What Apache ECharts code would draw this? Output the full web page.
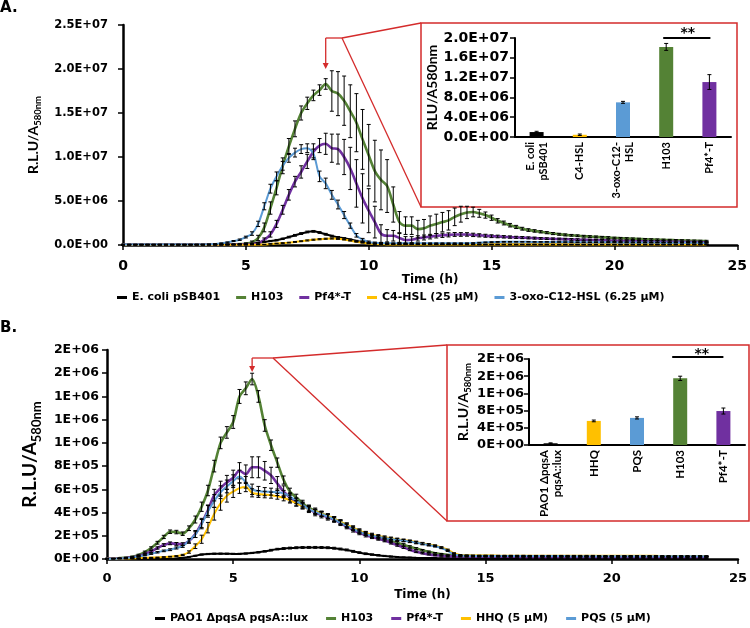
<!DOCTYPE html>
<html><head><meta charset="utf-8">
<script src="https://cdn.jsdelivr.net/npm/echarts@6/dist/echarts.min.js"></script>
<style>html,body{margin:0;padding:0;background:#fff}#c{width:750px;height:628px}</style>
</head><body><div id="c"></div>
<script>
// ---------- DATA ----------
const time = [0,0.25,0.5,0.75,1,1.25,1.5,1.75,2,2.25,2.5,2.75,3,3.25,3.5,3.75,4,4.25,4.5,4.75,5,5.25,5.5,5.75,6,6.25,6.5,6.75,7,7.25,7.5,7.75,8,8.25,8.5,8.75,9,9.25,9.5,9.75,10,10.25,10.5,10.75,11,11.25,11.5,11.75,12,12.25,12.5,12.75,13,13.25,13.5,13.75,14,14.25,14.5,14.75,15,15.25,15.5,15.75,16,16.25,16.5,16.75,17,17.25,17.5,17.75,18,18.25,18.5,18.75,19,19.25,19.5,19.75,20,20.25,20.5,20.75,21,21.25,21.5,21.75,22,22.25,22.5,22.75,23,23.25,23.5,23.75];

// Panel A (values in millions of R.L.U/A580nm)
const namesA = ['E. coli pSB401','H103','Pf4*-T','C4-HSL (25 µM)','3-oxo-C12-HSL (6.25 µM)'];
const aEcoli = [
0.03,0.03,0.03,0.03, 0.03,0.03,0.03,0.03, 0.03,0.03,0.03,0.03, 0.03,0.03,0.03,0.03,
0.03,0.04,0.05,0.08, 0.12,0.18,0.25,0.35, 0.45,0.55,0.70,0.90, 1.10,1.30,1.48,1.55,
1.42,1.22,1.02,0.88, 0.76,0.62,0.47,0.36, 0.27,0.20,0.15,0.12, 0.10,0.10,0.09,0.09,
0.08,0.08,0.08,0.08, 0.07,0.07,0.07,0.07, 0.07,0.07,0.06,0.06, 0.06,0.06,0.06,0.06,
0.06,0.06,0.06,0.06, 0.06,0.06,0.05,0.05, 0.05,0.05,0.05,0.05, 0.05,0.05,0.05,0.05,
0.05,0.05,0.05,0.05, 0.05,0.05,0.05,0.05, 0.05,0.05,0.05,0.05, 0.05,0.05,0.05,0.05];
const aEcoliErr = [
0.02,0.02,0.02,0.02, 0.02,0.02,0.02,0.02, 0.02,0.02,0.02,0.02, 0.02,0.02,0.02,0.02,
0.02,0.02,0.02,0.03, 0.03,0.04,0.05,0.06, 0.07,0.08,0.08,0.09, 0.10,0.10,0.10,0.10,
0.10,0.10,0.09,0.08, 0.08,0.07,0.06,0.05, 0.04,0.04,0.03,0.03, 0.02,0.02,0.02,0.02,
0.02,0.02,0.02,0.02, 0.02,0.02,0.02,0.02, 0.02,0.02,0.02,0.02, 0.02,0.02,0.02,0.02,
0.02,0.02,0.02,0.02, 0.02,0.02,0.02,0.02, 0.02,0.02,0.02,0.02, 0.02,0.02,0.02,0.02,
0.02,0.02,0.02,0.02, 0.02,0.02,0.02,0.02, 0.02,0.02,0.02,0.02, 0.02,0.02,0.02,0.02];
const aH103 = [
0.05,0.05,0.05,0.05, 0.05,0.05,0.05,0.05, 0.05,0.05,0.05,0.05, 0.06,0.06,0.06,0.07,
0.07,0.08,0.09,0.10, 0.15,0.30,0.80,2.00, 4.20,6.50,9.00,11.2, 13.2,15.0,16.1,17.0,
17.6,18.3,17.5,17.2, 16.4,15.2,13.9,12.0, 10.2,8.40,7.40,6.70, 4.60,2.60,2.20,2.20,
1.80,1.90,2.20,2.40, 2.60,2.80,3.20,3.50, 3.70,3.75,3.60,3.40, 3.10,2.75,2.50,2.25,
2.05,1.85,1.70,1.60, 1.50,1.40,1.30,1.22, 1.15,1.10,1.05,1.00, 0.96,0.92,0.88,0.85,
0.80,0.77,0.74,0.71, 0.68,0.65,0.62,0.60, 0.58,0.56,0.54,0.52, 0.50,0.48,0.46,0.45];
const aH103Err = [
0.04,0.04,0.04,0.04, 0.04,0.04,0.04,0.04, 0.04,0.04,0.04,0.04, 0.04,0.04,0.04,0.04,
0.04,0.05,0.05,0.06, 0.10,0.15,0.30,0.50, 0.70,0.80,0.90,0.90, 0.90,0.80,0.70,0.60,
0.60,0.60,2.30,2.50, 2.80,3.00,3.30,3.40, 3.50,3.50,3.40,3.00, 2.00,1.20,1.00,1.00,
1.00,1.00,1.10,1.10, 1.10,1.10,1.00,0.90, 0.70,0.55,0.45,0.35, 0.30,0.25,0.22,0.20,
0.18,0.16,0.15,0.14, 0.13,0.12,0.12,0.11, 0.11,0.10,0.10,0.10, 0.10,0.10,0.10,0.10,
0.09,0.09,0.09,0.09, 0.09,0.09,0.09,0.09, 0.08,0.08,0.08,0.08, 0.08,0.08,0.08,0.08];
const aPf4 = [
0.04,0.04,0.04,0.04, 0.04,0.04,0.04,0.04, 0.04,0.04,0.04,0.04, 0.04,0.04,0.04,0.04,
0.04,0.05,0.05,0.06, 0.08,0.10,0.20,0.60, 1.20,2.40,4.00,5.70, 7.20,8.30,9.50,10.6,
11.3,11.5,11.0,10.9, 10.0,8.70,7.00,5.30, 3.90,2.60,1.30,1.05, 1.05,0.80,0.55,0.60,
0.75,0.85,0.95,1.05, 1.10,1.15,1.20,1.20, 1.20,1.15,1.10,1.05, 1.00,0.97,0.93,0.90,
0.87,0.84,0.81,0.78, 0.75,0.72,0.70,0.68, 0.66,0.63,0.61,0.59, 0.57,0.55,0.53,0.51,
0.49,0.47,0.45,0.43, 0.42,0.41,0.40,0.39, 0.38,0.37,0.36,0.35, 0.34,0.33,0.32,0.31];
const aPf4Err = [
0.03,0.03,0.03,0.03, 0.03,0.03,0.03,0.03, 0.03,0.03,0.03,0.03, 0.03,0.03,0.03,0.03,
0.03,0.03,0.03,0.04, 0.05,0.06,0.10,0.20, 0.30,0.40,0.50,0.60, 0.60,0.70,0.80,0.90,
0.80,1.20,1.60,1.70, 2.00,2.40,2.70,2.80, 2.50,1.80,1.00,0.70, 0.60,0.50,0.40,0.35,
0.30,0.28,0.26,0.25, 0.24,0.23,0.22,0.21, 0.20,0.19,0.18,0.17, 0.16,0.15,0.14,0.13,
0.12,0.12,0.11,0.11, 0.10,0.10,0.10,0.10, 0.10,0.10,0.10,0.10, 0.09,0.09,0.09,0.09,
0.09,0.09,0.09,0.09, 0.08,0.08,0.08,0.08, 0.08,0.08,0.08,0.08, 0.07,0.07,0.07,0.07];
const aC4 = [
0.02,0.02,0.02,0.02, 0.02,0.02,0.02,0.02, 0.02,0.02,0.02,0.02, 0.02,0.02,0.02,0.02,
0.02,0.02,0.02,0.02, 0.02,0.03,0.04,0.06, 0.12,0.17,0.22,0.27, 0.35,0.43,0.52,0.60,
0.66,0.71,0.74,0.70, 0.62,0.50,0.36,0.25, 0.16,0.10,0.08,0.07, 0.06,0.06,0.06,0.06,
0.06,0.06,0.06,0.06, 0.06,0.06,0.06,0.06, 0.05,0.05,0.05,0.05, 0.05,0.05,0.05,0.05,
0.05,0.05,0.05,0.05, 0.05,0.05,0.05,0.05, 0.05,0.05,0.05,0.05, 0.05,0.05,0.05,0.05,
0.05,0.05,0.05,0.05, 0.05,0.05,0.05,0.05, 0.05,0.05,0.05,0.05, 0.05,0.05,0.05,0.05];
const aC4Err = [
0.01,0.01,0.01,0.01, 0.01,0.01,0.01,0.01, 0.01,0.01,0.01,0.01, 0.01,0.01,0.01,0.01,
0.01,0.01,0.01,0.01, 0.01,0.01,0.02,0.02, 0.03,0.03,0.04,0.04, 0.05,0.05,0.06,0.06,
0.06,0.06,0.06,0.06, 0.05,0.05,0.04,0.03, 0.02,0.02,0.02,0.02, 0.01,0.01,0.01,0.01,
0.01,0.01,0.01,0.01, 0.01,0.01,0.01,0.01, 0.01,0.01,0.01,0.01, 0.01,0.01,0.01,0.01,
0.01,0.01,0.01,0.01, 0.01,0.01,0.01,0.01, 0.01,0.01,0.01,0.01, 0.01,0.01,0.01,0.01,
0.01,0.01,0.01,0.01, 0.01,0.01,0.01,0.01, 0.01,0.01,0.01,0.01, 0.01,0.01,0.01,0.01];
const aOxo = [
0.05,0.05,0.05,0.05, 0.05,0.05,0.05,0.05, 0.05,0.05,0.05,0.05, 0.05,0.05,0.08,0.12,
0.20,0.30,0.45,0.60, 0.90,1.30,2.40,4.40, 6.40,7.80,9.00,9.90, 10.5,10.9,11.0,10.4,
7.80,7.00,5.70,4.60, 3.40,2.20,1.10,0.60, 0.35,0.25,0.20,0.20, 0.20,0.20,0.20,0.20,
0.20,0.20,0.20,0.20, 0.20,0.20,0.20,0.20, 0.20,0.22,0.26,0.30, 0.33,0.35,0.36,0.36,
0.36,0.36,0.36,0.35, 0.35,0.35,0.34,0.34, 0.33,0.33,0.32,0.32, 0.31,0.31,0.30,0.30,
0.30,0.29,0.29,0.28, 0.28,0.28,0.27,0.27, 0.26,0.26,0.26,0.25, 0.25,0.25,0.24,0.24];
const aOxoErr = [
0.02,0.02,0.02,0.02, 0.02,0.02,0.02,0.02, 0.02,0.02,0.02,0.02, 0.02,0.02,0.03,0.03,
0.04,0.05,0.06,0.08, 0.10,0.20,0.30,0.40, 0.50,0.50,0.50,0.50, 0.50,0.50,0.50,0.50,
0.60,0.60,0.50,0.50, 0.40,0.30,0.20,0.15, 0.10,0.08,0.06,0.05, 0.04,0.04,0.04,0.04,
0.04,0.04,0.04,0.04, 0.04,0.04,0.04,0.04, 0.04,0.04,0.04,0.04, 0.04,0.04,0.04,0.04,
0.03,0.03,0.03,0.03, 0.03,0.03,0.03,0.03, 0.03,0.03,0.03,0.03, 0.03,0.03,0.03,0.03,
0.03,0.03,0.03,0.03, 0.03,0.03,0.03,0.03, 0.03,0.03,0.03,0.03, 0.03,0.03,0.03,0.03];

// Panel B (values in thousands of R.L.U/A580nm)
const namesB = ['PAO1 ΔpqsA pqsA::lux','H103','Pf4*-T','HHQ (5 µM)','PQS (5 µM)'];
const bPAO1 = [
3,3,3,3, 3,3,3,3, 3,3,3,5, 10,18,28,38, 43,45,46,45, 44,44,47,52,
58,66,76,85, 90,94,97,99, 100,100,99,97, 93,86,78,66, 55,45,38,32, 26,21,17,14,
12,10,9,8, 8,7,7,7, 6,6,6,6, 6,6,6,6, 6,6,6,6, 6,6,5,5,
5,5,5,5, 5,5,5,5, 5,5,5,5, 5,5,5,5, 5,5,5,5, 5,5,5,5];
const bPAO1Err = [
1,1,1,1, 1,1,1,1, 1,1,1,1, 2,3,4,5, 5,5,5,5, 5,5,5,5,
6,6,7,7, 8,8,8,8, 8,8,8,8, 8,8,8,8, 7,7,6,6, 5,5,4,4,
3,3,3,3, 2,2,2,2, 2,2,2,2, 2,2,2,2, 2,2,2,2, 2,2,2,2,
2,2,2,2, 2,2,2,2, 2,2,2,2, 2,2,2,2, 2,2,2,2, 2,2,2,2];
const bH103 = [
5,5,8,12, 20,35,60,95, 140,190,235,232, 218,265,340,450, 590,800,1000,1090, 1180,1400,1470,1550,
1400,1150,980,830, 680,580,530,480, 440,415,390,368, 345,318,290,265, 240,220,200,185, 170,155,140,122,
105,90,75,62, 50,42,35,30, 28,27,26,25, 25,24,24,23, 23,23,22,22, 22,22,21,21,
21,21,20,20, 20,20,20,20, 20,20,20,20, 19,19,19,19, 19,19,19,19, 19,19,19,19];
const bH103Err = [
2,2,2,3, 4,6,8,10, 12,14,15,15, 15,20,30,40, 45,50,50,50, 55,60,55,50,
50,50,45,40, 35,30,28,26, 25,24,23,22, 21,20,19,18, 17,16,15,14, 13,12,11,10,
9,8,7,6, 6,5,5,4, 4,4,4,4, 3,3,3,3, 3,3,3,3, 3,3,3,3,
3,3,3,3, 3,3,3,3, 3,3,3,3, 3,3,3,3, 3,3,3,3, 3,3,3,3];
const bPf4 = [
3,3,5,8, 14,25,42,65, 95,120,135,130, 128,155,215,310, 420,550,610,660, 700,760,730,790,
790,760,720,650, 580,530,490,460, 430,400,380,360, 340,310,280,250, 225,205,190,175, 160,140,120,100,
80,62,50,40, 33,28,25,23, 22,21,20,20, 20,19,19,19, 19,19,18,18, 18,18,18,18,
18,18,18,18, 18,18,18,18, 17,17,17,17, 17,17,17,17, 17,17,17,17, 17,17,17,17];
const bPf4Err = [
2,2,2,3, 4,5,6,8, 10,12,12,12, 12,20,30,40, 45,50,60,60, 65,70,80,90,
90,80,70,60, 50,40,35,30, 30,28,26,25, 24,22,20,18, 16,15,14,13, 12,11,10,9,
8,7,6,5, 5,4,4,4, 3,3,3,3, 3,3,3,3, 3,3,3,3, 3,3,3,3,
3,3,3,3, 3,3,3,3, 3,3,3,3, 3,3,3,3, 3,3,3,3, 3,3,3,3];
const bHHQ = [
2,2,3,4, 6,8,10,12, 14,17,20,25, 35,60,110,170, 270,390,480,545, 580,610,620,570,
560,555,550,540, 525,505,480,455, 430,410,390,370, 345,320,295,270, 245,225,210,198, 188,178,170,162,
155,145,135,125, 115,100,80,50, 35,32,31,30, 30,30,29,29, 29,29,29,28, 28,28,28,28,
28,28,28,28, 28,28,27,27, 27,27,27,27, 27,27,27,27, 26,26,26,26, 26,26,26,26];
const bHHQErr = [
1,1,1,1, 1,1,2,2, 2,3,3,4, 5,10,20,35, 45,55,60,55, 50,45,40,35,
30,28,26,25, 24,23,22,21, 20,20,19,19, 18,17,16,15, 14,13,12,12, 11,11,10,10,
9,9,8,8, 7,6,5,4, 3,3,3,3, 3,3,3,3, 3,3,3,3, 3,3,3,3,
3,3,3,3, 3,3,3,3, 3,3,3,3, 3,3,3,3, 3,3,3,3, 3,3,3,3];
const bPQS = [
3,3,5,8, 14,22,32,45, 58,70,80,95, 110,160,210,300, 410,500,575,625, 670,710,660,600,
585,580,580,575, 565,540,500,465, 430,405,385,365, 340,312,285,260, 235,215,200,190, 180,172,165,158,
150,140,130,120, 110,95,70,40, 30,28,27,26, 26,26,25,25, 25,25,25,25, 25,25,25,25,
25,25,24,24, 24,24,24,24, 24,24,24,24, 23,23,23,23, 23,23,23,23, 23,23,23,23];
const bPQSErr = [
1,1,1,2, 2,3,4,5, 6,7,8,9, 10,15,25,40, 50,55,55,55, 55,55,50,45,
40,35,30,28, 26,25,24,23, 22,21,20,19, 18,17,16,15, 14,13,12,12, 11,11,10,10,
9,9,8,8, 7,6,5,4, 3,3,3,3, 3,3,3,3, 3,3,3,3, 3,3,3,3,
3,3,3,3, 3,3,3,3, 3,3,3,3, 3,3,3,3, 3,3,3,3, 3,3,3,3];

// Insets (peak values)
const insetACats = ['E. coli\npSB401','C4-HSL','3-oxo-C12-\nHSL','H103','Pf4*-T'];
const insetAVals = [1.0e6, 0.45e6, 7.0e6, 18.2e6, 11.1e6];
const insetAErr  = [0.15e6, 0.15e6, 0.2e6, 0.7e6, 1.5e6];
const insetBCats = ['PAO1 ΔpqsA\npqsA::lux','HHQ','PQS','H103','Pf4*-T'];
const insetBVals = [0.04e6, 0.56e6, 0.63e6, 1.55e6, 0.79e6];
const insetBErr  = [0.01e6, 0.02e6, 0.025e6, 0.05e6, 0.07e6];

// Tick settings
const yTicksA = {max: 2.5e7, interval: 5e6};
const yTicksAInset = {max: 2.0e7, interval: 4e6};
const yTicksB = {max: 1.8e6, interval: 2e5};
const yTicksBInset = {max: 2.0e6, interval: 4e5};
const xTicks = {max: 25, interval: 5};

// ---------- STYLE ----------
const UNIT_A = 1e6, UNIT_B = 1e3;
const colA = ['#000000','#548235','#7030A0','#FFC000','#5B9BD5'];
const colB = ['#000000','#548235','#7030A0','#FFC000','#5B9BD5'];
const widthA = [2,2.6,2.6,2,2];
const colInsetA = ['#000000','#FFC000','#5B9BD5','#548235','#7030A0'];
const colInsetB = ['#000000','#FFC000','#5B9BD5','#548235','#7030A0'];
const RED = '#D42B2B';
const F = 'DejaVu Sans', RF = 'Lato';

function sci(v, d){
  const s = Number(v).toExponential(d);
  const parts = s.split('e');
  const sign = parts[1][0] === '-' ? '-' : '+';
  const n = Math.abs(parseInt(parts[1], 10));
  return parts[0] + 'E' + sign + (n < 10 ? '0' : '') + n;
}

const chart = echarts.init(document.getElementById('c'));

function errRender(params, api){
  const x = api.value(0), y = api.value(1), e = api.value(2);
  const t = api.coord([x, y + e]), b = api.coord([x, Math.max(0, y - e)]);
  const cw = 2, st = {stroke:'#000', lineWidth:1};
  return {type:'group', children:[
    {type:'line', shape:{x1:t[0], y1:t[1], x2:b[0], y2:b[1]}, style:st},
    {type:'line', shape:{x1:t[0]-cw, y1:t[1], x2:t[0]+cw, y2:t[1]}, style:st},
    {type:'line', shape:{x1:b[0]-cw, y1:b[1], x2:b[0]+cw, y2:b[1]}, style:st}
  ]};
}

const seriesA = [aEcoli, aH103, aPf4, aC4, aOxo];
const errsA = [aEcoliErr, aH103Err, aPf4Err, aC4Err, aOxoErr];
const seriesB = [bPAO1, bH103, bPf4, bHHQ, bPQS];
const errsB = [bPAO1Err, bH103Err, bPf4Err, bHHQErr, bPQSErr];

const series = [];
seriesA.forEach((vals, k) => {
  series.push({type:'line', name:namesA[k], xAxisIndex:0, yAxisIndex:0, showSymbol:false, smooth:0.3,
    data: time.map((t,i)=>[t, vals[i]*UNIT_A]), color: colA[k],
    lineStyle:{width:widthA[k], color:colA[k]}, z:2});
});
const errItemsA = [];
seriesA.forEach((vals,k)=> time.forEach((t,i)=> errItemsA.push([t, vals[i]*UNIT_A, errsA[k][i]*UNIT_A])));
series.push({type:'custom', xAxisIndex:0, yAxisIndex:0, renderItem:errRender, data:errItemsA, z:3, silent:true});

seriesB.forEach((vals, k) => {
  series.push({type:'line', name:namesB[k], xAxisIndex:2, yAxisIndex:2, showSymbol:false, smooth:0.3,
    data: time.map((t,i)=>[t, vals[i]*UNIT_B]), color: colB[k],
    lineStyle:{width:widthA[k], color:colB[k]}, z:2});
});
const errItemsB = [];
seriesB.forEach((vals,k)=> time.forEach((t,i)=> errItemsB.push([t, vals[i]*UNIT_B, errsB[k][i]*UNIT_B])));
series.push({type:'custom', xAxisIndex:2, yAxisIndex:2, renderItem:errRender, data:errItemsB, z:3, silent:true});

series.push({type:'bar', xAxisIndex:1, yAxisIndex:1, barWidth:14,
  data: insetAVals.map((v,i)=>({value:v, itemStyle:{color:colInsetA[i]}}))});
series.push({type:'custom', xAxisIndex:1, yAxisIndex:1, renderItem:errRender, z:3,
  data: insetAVals.map((v,i)=>[i, v, insetAErr[i]])});
series.push({type:'bar', xAxisIndex:3, yAxisIndex:3, barWidth:14,
  data: insetBVals.map((v,i)=>({value:v, itemStyle:{color:colInsetB[i]}}))});
series.push({type:'custom', xAxisIndex:3, yAxisIndex:3, renderItem:errRender, z:3,
  data: insetBVals.map((v,i)=>[i, v, insetBErr[i]])});

const lab = (size, extra) => Object.assign({color:'#000', fontFamily:F, fontWeight:'bold', fontSize:size}, extra||{});
const aLine = w => ({show:true, onZero:false, lineStyle:{color:'#000', width:w}});
const tick = {show:true, length:5, lineStyle:{color:'#000', width:1.5}};
const richName = (big, small, lh) => ({
  a:{fontFamily:RF, fontWeight:'bold', fontSize:big, color:'#000', lineHeight:lh, verticalAlign:'middle'},
  s:{fontFamily:RF, fontWeight:'bold', fontSize:small, color:'#000', lineHeight:Math.round(lh*0.55), verticalAlign:'bottom'}
});

const option = {
  animation:false,
  backgroundColor:'#fff',
  grid:[
    {left:123, top:25, width:615, height:220},
    {left:515, top:38, width:216, height:99},
    {left:107, top:350, width:634, height:209},
    {left:529, top:359, width:216, height:86}
  ],
  xAxis:[
    {gridIndex:0, type:'value', min:0, max:xTicks.max, interval:xTicks.interval, axisLine:aLine(2.5), axisTick:tick,
     axisLabel:lab(14,{margin:14}), splitLine:{show:false},
     name:'Time (h)', nameLocation:'middle', nameGap:27, nameTextStyle:lab(12)},
    {gridIndex:1, type:'category', data:insetACats, axisLine:aLine(2), axisTick:{show:false},
     axisLabel:{interval:0, rotate:90, margin:5, color:'#000', fontFamily:RF, fontWeight:'bold', fontSize:11, lineHeight:13}},
    {gridIndex:2, type:'value', min:0, max:xTicks.max, interval:xTicks.interval, axisLine:aLine(2.5), axisTick:tick,
     axisLabel:lab(13,{margin:13}), splitLine:{show:false},
     name:'Time (h)', nameLocation:'middle', nameGap:30, nameTextStyle:lab(12)},
    {gridIndex:3, type:'category', data:insetBCats, axisLine:aLine(2), axisTick:{show:false},
     axisLabel:{interval:0, rotate:90, margin:5, color:'#000', fontFamily:RF, fontWeight:'bold', fontSize:11.5, lineHeight:13}}
  ],
  yAxis:[
    {gridIndex:0, type:'value', min:0, max:yTicksA.max, interval:yTicksA.interval, axisLine:aLine(2.5), axisTick:tick,
     axisLabel:lab(11.5,{margin:15, formatter:v=>sci(v,1)}), splitLine:{show:false},
     name:'{a|R.L.U/A}{s|580nm}', nameLocation:'middle', nameGap:70, nameTextStyle:{rich:richName(14,9.5,20)}},
    {gridIndex:1, type:'value', min:0, max:yTicksAInset.max, interval:yTicksAInset.interval, axisLine:aLine(2), axisTick:tick,
     axisLabel:lab(14,{margin:6, formatter:v=>sci(v,1)}), splitLine:{show:false},
     name:'RLU/A580nm', nameLocation:'middle', nameGap:74, nameTextStyle:{fontFamily:RF, fontWeight:'bold', fontSize:14, color:'#000'}},
    {gridIndex:2, type:'value', min:0, max:yTicksB.max, interval:yTicksB.interval, axisLine:aLine(2.5), axisTick:tick,
     axisLabel:lab(12.5,{margin:8, formatter:v=>sci(v,0)}), splitLine:{show:false},
     name:'{a|R.L.U/A}{s|580nm}', nameLocation:'middle', nameGap:54, nameTextStyle:{rich:richName(19,13,26)}},
    {gridIndex:3, type:'value', min:0, max:yTicksBInset.max, interval:yTicksBInset.interval, axisLine:aLine(2), axisTick:tick,
     axisLabel:lab(13,{margin:5, formatter:v=>sci(v,0)}), splitLine:{show:false},
     name:'{a|R.L.U/A}{s|580nm}', nameLocation:'middle', nameGap:56, nameTextStyle:{rich:richName(14,9.5,20)}}
  ],
  legend:[
    {data:namesA, left:117, top:292, padding:0, icon:'rect', itemWidth:10, itemHeight:3, itemGap:16,
     textStyle:lab(11), selectedMode:false},
    {data:namesB, left:155, top:613, padding:0, icon:'rect', itemWidth:10, itemHeight:3, itemGap:18,
     textStyle:lab(11), selectedMode:false}
  ],
  series: series
};
chart.setOption(option);

// ---------- annotations ----------
function peakTime(vals){ let m = 0; vals.forEach((v,i)=>{ if (v > vals[m]) m = i; }); return time[m]; }
const pA = chart.convertToPixel({xAxisIndex:0, yAxisIndex:0}, [peakTime(aH103), 0]);
const pB = chart.convertToPixel({xAxisIndex:2, yAxisIndex:2}, [peakTime(bH103), 0]);
const hA = chart.convertToPixel({xAxisIndex:1, yAxisIndex:1}, [3, 0]);
const fA = chart.convertToPixel({xAxisIndex:1, yAxisIndex:1}, [4, 0]);
const hB = chart.convertToPixel({xAxisIndex:3, yAxisIndex:3}, [3, 0]);
const fB = chart.convertToPixel({xAxisIndex:3, yAxisIndex:3}, [4, 0]);
const rs = {stroke:RED, lineWidth:1.3};
const ln = (x1,y1,x2,y2,st) => ({type:'line', shape:{x1,y1,x2,y2}, style:st||rs, silent:true});
const head = (x,y) => ({type:'polygon', shape:{points:[[x-3,y-6],[x+3,y-6],[x,y]]}, style:{fill:RED}, silent:true});
const bk = {stroke:'#000', lineWidth:2};
chart.setOption({graphic:[
  {type:'text', left:0, top:1, style:{text:'A.', font:'bold 15px "DejaVu Sans"', fill:'#000'}},
  {type:'text', left:0, top:321, style:{text:'B.', font:'bold 15px "DejaVu Sans"', fill:'#000'}},
  {type:'rect', shape:{x:421, y:23, width:316, height:184}, style:{fill:'none', stroke:RED, lineWidth:1.5}, silent:true},
  {type:'rect', shape:{x:447, y:345, width:302, height:176}, style:{fill:'none', stroke:RED, lineWidth:1.5}, silent:true},
  ln(pA[0],38,342,38), ln(342,38,421,23), ln(342,38,421,207), ln(pA[0],38,pA[0],64), head(pA[0],69),
  ln(pB[0],358,273,358), ln(273,358,447,345), ln(273,358,447,521), ln(pB[0],358,pB[0],367), head(pB[0],372),
  ln(hA[0]-3,38,fA[0]+1,38,bk), ln(hB[0]-8,357,fB[0],357,bk),
  {type:'text', x:(hA[0]+fA[0])/2, y:33, style:{text:'**', font:'bold 14px "DejaVu Sans"', fill:'#000', textAlign:'center', textVerticalAlign:'middle'}},
  {type:'text', x:(hB[0]+fB[0])/2, y:354, style:{text:'**', font:'bold 14px "DejaVu Sans"', fill:'#000', textAlign:'center', textVerticalAlign:'middle'}}
]});
</script>
</body></html>
